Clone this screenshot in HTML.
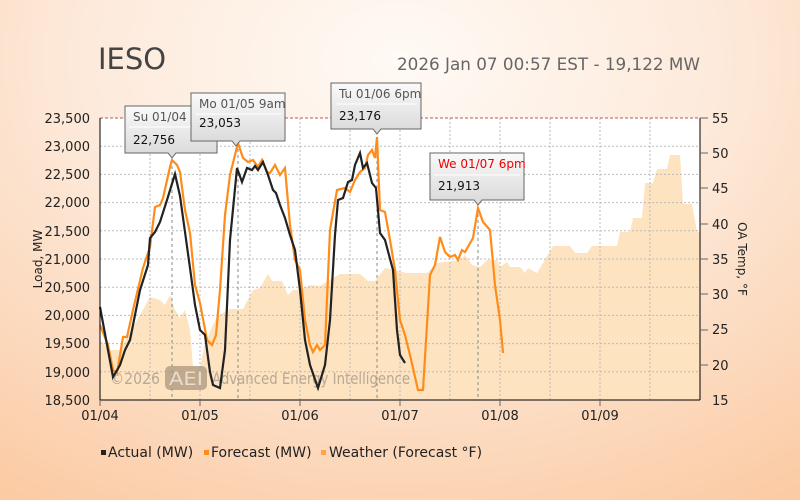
<!DOCTYPE html>
<html><head><meta charset="utf-8"><style>
body{margin:0;width:800px;height:500px;overflow:hidden;background:radial-gradient(ellipse 700px 520px at 400px 60px,#fffaf5 0%,#fdeadb 45%,#fbcba4 100%);font-family:"Liberation Sans","DejaVu Sans",sans-serif}
svg{position:absolute;left:0;top:0}
</style></head><body>
<svg width="800" height="500" font-family="DejaVu Sans, sans-serif">
<text x="98" y="69" font-size="29" fill="#444">IESO</text>
<text x="700" y="70" font-size="17" fill="#666" text-anchor="end" textLength="303" lengthAdjust="spacingAndGlyphs">2026 Jan 07 00:57 EST - 19,122 MW</text>
<rect x="100" y="118" width="600" height="282" fill="#fff"/>
<polygon fill="#fde3bf" points="100,400 100,340 110,350 120,350 140,315 150,297 160,300 165,305 170,295 175,310 180,318 185,310 190,330 193,367 200,367 205,343 217,316 230,309 243,309 253,290 260,288 268,274 272,281 282,281 288,295 293,290 300,290 310,285 320,286 340,274 360,274 368,281 375,281 385,268 407,273 427,273 437,263 460,260 465,255 472,265 480,267 487,260 497,260 500,267 507,262 510,267 520,267 525,273 528,268 537,273 553,246 570,246 575,253 587,253 592,246 617,246 620,232 630,232 633,218 642,218 645,183 653,183 657,169 667,169 670,155 680,155 683,204 692,204 697,232 700,232 700,400"/>
<g stroke="#bbb" stroke-dasharray="2,2" stroke-width="1">
<line x1="100" x2="700" y1="146.2" y2="146.2"/><line x1="100" x2="700" y1="174.4" y2="174.4"/><line x1="100" x2="700" y1="202.6" y2="202.6"/><line x1="100" x2="700" y1="230.8" y2="230.8"/><line x1="100" x2="700" y1="259" y2="259"/><line x1="100" x2="700" y1="287.2" y2="287.2"/><line x1="100" x2="700" y1="315.4" y2="315.4"/><line x1="100" x2="700" y1="343.6" y2="343.6"/><line x1="100" x2="700" y1="371.8" y2="371.8"/>
<line x1="150" x2="150" y1="118" y2="400"/><line x1="200" x2="200" y1="118" y2="400"/><line x1="250" x2="250" y1="118" y2="400"/><line x1="300" x2="300" y1="118" y2="400"/><line x1="350" x2="350" y1="118" y2="400"/><line x1="400" x2="400" y1="118" y2="400"/><line x1="450" x2="450" y1="118" y2="400"/><line x1="500" x2="500" y1="118" y2="400"/><line x1="550" x2="550" y1="118" y2="400"/><line x1="600" x2="600" y1="118" y2="400"/><line x1="650" x2="650" y1="118" y2="400"/>
</g>
<g stroke="#888" stroke-dasharray="3,3"><line x1="172" x2="172" y1="160" y2="400"/><line x1="238" x2="238" y1="143" y2="400"/><line x1="377" x2="377" y1="137" y2="400"/><line x1="478" x2="478" y1="208" y2="400"/></g>
<line x1="100" x2="700" y1="118" y2="118" stroke="#b55" stroke-dasharray="3,2"/>
<text x="110" y="384" font-size="16" fill="#b8a898" textLength="50" lengthAdjust="spacingAndGlyphs">©2026</text>
<rect x="165" y="366" width="42" height="24" rx="5" fill="#b09a80" opacity="0.8"/>
<text x="169" y="385" font-size="19" fill="#e8ddd0" textLength="34" lengthAdjust="spacingAndGlyphs">AEI</text>
<text x="212" y="384" font-size="16" fill="#b8a898" textLength="198" lengthAdjust="spacingAndGlyphs">Advanced Energy Intelligence</text>
<polyline fill="none" stroke="#ff8c1a" stroke-width="2.2" points="100,325 108,345 113,370 117,373 123,337 127,337 133,310 143,268 150,247 155,207 160,205 163,198 170,167 172,160 177,165 180,172 185,210 190,233 195,285 200,303 207,340 212,345 216,335 220,290 225,215 230,175 238,143 243,158 248,162 253,160 258,167 262,160 267,172 270,173 275,165 280,175 285,168 290,225 295,260 300,270 305,320 310,345 313,352 317,345 320,350 325,345 330,230 337,190 345,188 350,192 355,180 360,172 365,168 368,155 372,150 375,158 377,137 380,210 385,212 390,240 395,270 400,320 405,335 410,355 418,390 423,390 430,275 435,265 440,237 445,252 450,257 455,255 458,260 462,250 465,252 473,238 478,208 483,222 490,230 495,285 500,320 503,353"/>
<polyline fill="none" stroke="#222" stroke-width="2.2" points="100,307 113,377 120,365 125,350 130,340 140,290 148,265 150,238 155,232 160,222 167,200 175,174 180,196 185,232 190,268 195,305 200,330 205,335 210,372 213,385 220,388 225,350 230,240 237,168 242,182 247,168 252,170 255,166 258,170 263,162 268,175 273,190 276,193 280,205 285,218 290,235 295,250 300,290 305,340 310,365 318,388 325,365 330,320 335,235 338,200 343,198 348,182 352,180 355,165 360,153 363,168 367,163 372,183 376,188 380,233 385,240 393,270 397,330 400,355 405,363"/>
<line x1="100" x2="100" y1="118" y2="400" stroke="#000"/><line x1="700" x2="700" y1="118" y2="400" stroke="#000"/><line x1="100" x2="700" y1="400" y2="400" stroke="#000"/>
<g font-size="13" fill="#222" text-anchor="end">
<text x="90" y="123">23,500</text><text x="90" y="151">23,000</text><text x="90" y="179">22,500</text><text x="90" y="207">22,000</text><text x="90" y="236">21,500</text><text x="90" y="264">21,000</text><text x="90" y="292">20,500</text><text x="90" y="320">20,000</text><text x="90" y="348">19,500</text><text x="90" y="377">19,000</text><text x="90" y="405">18,500</text>
</g>
<g font-size="13" fill="#222"><text x="712" y="123">55</text><text x="712" y="158">50</text><text x="712" y="193">45</text><text x="712" y="229">40</text><text x="712" y="264">35</text><text x="712" y="299">30</text><text x="712" y="334">25</text><text x="712" y="370">20</text><text x="712" y="405">15</text></g>
<g stroke="#666"><line x1="700" x2="708" y1="118" y2="118"/><line x1="700" x2="708" y1="153" y2="153"/><line x1="700" x2="708" y1="188" y2="188"/><line x1="700" x2="708" y1="224" y2="224"/><line x1="700" x2="708" y1="259" y2="259"/><line x1="700" x2="708" y1="294" y2="294"/><line x1="700" x2="708" y1="330" y2="330"/><line x1="700" x2="708" y1="365" y2="365"/><line x1="100" x2="100" y1="400" y2="406"/><line x1="200" x2="200" y1="400" y2="406"/><line x1="300" x2="300" y1="400" y2="406"/><line x1="400" x2="400" y1="400" y2="406"/><line x1="500" x2="500" y1="400" y2="406"/><line x1="600" x2="600" y1="400" y2="406"/></g>
<g font-size="13" fill="#222" text-anchor="middle"><text x="100" y="420">01/04</text><text x="200" y="420">01/05</text><text x="300" y="420">01/06</text><text x="400" y="420">01/07</text><text x="500" y="420">01/08</text><text x="600" y="420">01/09</text></g>
<text transform="translate(42,259) rotate(-90)" font-size="12" fill="#222" text-anchor="middle">Load, MW</text>
<text transform="translate(738,259) rotate(90)" font-size="12" fill="#222" text-anchor="middle">OA Temp, °F</text>
<defs><linearGradient id="tg" x1="0" y1="0" x2="0" y2="1"><stop offset="0" stop-color="#fafafa"/><stop offset="1" stop-color="#d8d8d8"/></linearGradient></defs>
<g font-size="12">
<path d="M125,106h92v47h-41l-4,5l-4,-5h-43z" fill="url(#tg)" stroke="#666"/><text x="133" y="121" fill="#555">Su 01/04 5pm</text><line x1="129" x2="213" y1="127" y2="127" stroke="#fff"/><text x="133" y="144" fill="#111">22,756</text>
<path d="M191,93h94v48h-45l-4,5l-4,-5h-41z" fill="url(#tg)" stroke="#666"/><text x="199" y="108" fill="#555">Mo 01/05 9am</text><line x1="195" x2="281" y1="114" y2="114" stroke="#fff"/><text x="199" y="127" fill="#111">23,053</text>
<path d="M331,83h90v46h-40l-4,5l-4,-5h-42z" fill="url(#tg)" stroke="#666"/><text x="339" y="98" fill="#555">Tu 01/06 6pm</text><line x1="335" x2="417" y1="104" y2="104" stroke="#fff"/><text x="339" y="120" fill="#111">23,176</text>
<path d="M430,153h94v47h-42l-4,5l-4,-5h-44z" fill="url(#tg)" stroke="#666"/><text x="438" y="168" fill="#e00">We 01/07 6pm</text><line x1="434" x2="520" y1="175" y2="175" stroke="#fff"/><text x="438" y="190" fill="#111">21,913</text>
</g>
<g font-size="14" fill="#222">
<rect x="101" y="450" width="5" height="5" fill="#222"/><text x="108" y="457">Actual (MW)</text>
<rect x="204" y="450" width="5" height="5" fill="#ff8c1a"/><text x="211" y="457">Forecast (MW)</text>
<rect x="321" y="450" width="5" height="5" fill="#ffa640"/><text x="329" y="457">Weather (Forecast °F)</text>
</g>
</svg>
</body></html>
